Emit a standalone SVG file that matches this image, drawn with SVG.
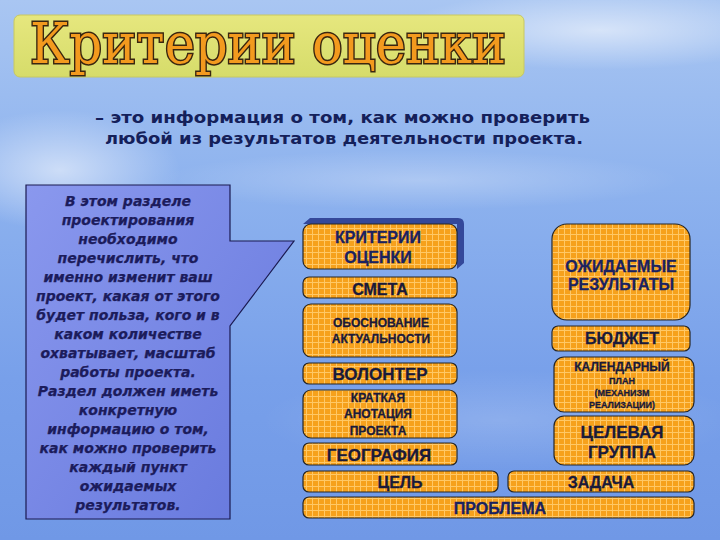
<svg xmlns="http://www.w3.org/2000/svg" width="720" height="540" viewBox="0 0 720 540">
<defs>
<linearGradient id="sky" x1="0" y1="0" x2="0" y2="1">
<stop offset="0" stop-color="#a9c6f2"/>
<stop offset="0.35" stop-color="#8db2ee"/>
<stop offset="0.7" stop-color="#78a0ea"/>
<stop offset="1" stop-color="#7098e6"/>
</linearGradient>
<radialGradient id="cloud">
<stop offset="0" stop-color="#ffffff" stop-opacity="0.55"/>
<stop offset="1" stop-color="#ffffff" stop-opacity="0"/>
</radialGradient>
<linearGradient id="titleg" x1="0" y1="0" x2="0" y2="1">
<stop offset="0" stop-color="#e6e77e"/>
<stop offset="1" stop-color="#d6dc6a"/>
</linearGradient>
<linearGradient id="callg" x1="0" y1="0" x2="1" y2="1">
<stop offset="0" stop-color="#8a98ee"/>
<stop offset="1" stop-color="#6577dc"/>
</linearGradient>
<pattern id="grid" width="6" height="6" patternUnits="userSpaceOnUse">
<rect width="6" height="6" fill="#f6a11c"/>
<path d="M0 0.5H6M0.5 0V6" stroke="#ffc866" stroke-width="1"/>
</pattern>
<style>
.box{fill:url(#grid);stroke:#262626;stroke-width:1.2}
.t{font-family:"Liberation Sans",Arial,sans-serif;font-weight:bold;text-anchor:middle;fill:#1a1a3a;stroke:#1a1a3a;stroke-width:0.3}
.n{fill:#1a2260;stroke:#1a2260}
.s{font-family:"DejaVu Sans",Verdana,sans-serif;font-weight:bold;font-size:16px;fill:#14205a}
.c{font-family:"DejaVu Sans",Verdana,sans-serif;font-weight:bold;font-style:italic;font-size:14px;text-anchor:middle;fill:#1c1c5c;stroke:#1c1c5c;stroke-width:0.25}
</style>
</defs>
<rect width="720" height="540" fill="url(#sky)"/>
<ellipse cx="60" cy="170" rx="120" ry="60" fill="url(#cloud)"/>
<ellipse cx="600" cy="30" rx="200" ry="40" fill="url(#cloud)"/>
<ellipse cx="420" cy="180" rx="260" ry="30" fill="url(#cloud)" opacity="0.5"/>
<ellipse cx="500" cy="420" rx="240" ry="50" fill="url(#cloud)" opacity="0.3"/>

<g id="title">
<rect x="14" y="15" width="510" height="62" rx="6" fill="url(#titleg)" stroke="#c8c860" stroke-width="1"/>
<g transform="translate(268,63) scale(1,1.15)">
<text x="0" y="0" font-family="DejaVu Serif,Liberation Serif,serif" font-size="48" text-anchor="middle" textLength="476" lengthAdjust="spacingAndGlyphs" fill="#f39a1e" stroke="#3a2610" stroke-width="2.6" paint-order="stroke">Критерии  оценки</text>
</g>
</g>

<g id="subtitle">
<text class="s" x="95" y="123" textLength="495" lengthAdjust="spacingAndGlyphs">– это информация о том, как можно проверить</text>
<text class="s" x="105" y="144" textLength="478" lengthAdjust="spacingAndGlyphs">любой из результатов деятельности проекта.</text>
</g>

<g id="callout">
<path d="M26 185H230V241H294L230 326V519H26Z" fill="url(#callg)" stroke="#1a1a50" stroke-width="1.2"/>
<text class="c" x="128" y="206">В этом разделе</text>
<text class="c" x="128" y="225">проектирования</text>
<text class="c" x="128" y="244">необходимо</text>
<text class="c" x="128" y="263">перечислить, что</text>
<text class="c" x="128" y="282">именно изменит ваш</text>
<text class="c" x="128" y="301">проект, какая от этого</text>
<text class="c" x="128" y="320">будет польза, кого и в</text>
<text class="c" x="128" y="339">каком  количестве</text>
<text class="c" x="128" y="358">охватывает, масштаб</text>
<text class="c" x="128" y="377">работы проекта.</text>
<text class="c" x="128" y="396">Раздел должен иметь</text>
<text class="c" x="128" y="415">конкретную</text>
<text class="c" x="128" y="434">информацию  о том,</text>
<text class="c" x="128" y="453">как можно проверить</text>
<text class="c" x="128" y="472">каждый пункт</text>
<text class="c" x="128" y="491">ожидаемых</text>
<text class="c" x="128" y="510">результатов.</text>
</g>

<g id="connectors"></g>

<g id="kriterii">
<path d="M310 218H458Q464 218 464 224V263L457 269V224Q457 224 451 224H303Z" fill="#34489a"/>
<rect x="303" y="224" width="154" height="45" rx="8" class="box"/>
<text class="t n" font-size="16" x="378" y="243">КРИТЕРИИ</text>
<text class="t n" font-size="16" x="378" y="263">ОЦЕНКИ</text>
</g>
<g id="smeta">
<rect x="303" y="277" width="154" height="21" rx="6" class="box"/>
<text class="t" font-size="16" x="380" y="295">СМЕТА</text>
</g>
<g id="obosnovanie">
<rect x="303" y="304" width="154" height="53" rx="8" class="box"/>
<text class="t" font-size="12" x="381" y="327">ОБОСНОВАНИЕ</text>
<text class="t" font-size="12" x="381" y="343">АКТУАЛЬНОСТИ</text>
</g>
<g id="volonter">
<rect x="303" y="363" width="154" height="21" rx="6" class="box"/>
<text class="t" font-size="17" x="380" y="380">ВОЛОНТЕР</text>
</g>
<g id="kratkaya">
<rect x="303" y="390" width="154" height="48" rx="8" class="box"/>
<text class="t" font-size="12" x="378" y="402">КРАТКАЯ</text>
<text class="t" font-size="12" x="378" y="418">АНОТАЦИЯ</text>
<text class="t" font-size="12" x="378" y="435">ПРОЕКТА</text>
</g>
<g id="geografiya">
<rect x="303" y="443" width="154" height="22" rx="6" class="box"/>
<text class="t" font-size="17" x="379" y="461">ГЕОГРАФИЯ</text>
</g>
<g id="ozhidaemye">
<rect x="552" y="224" width="138" height="96" rx="15" class="box"/>
<text class="t n" font-size="16" x="621" y="272">ОЖИДАЕМЫЕ</text>
<text class="t n" font-size="16" x="621" y="290">РЕЗУЛЬТАТЫ</text>
</g>
<g id="byudzhet">
<rect x="552" y="326" width="138" height="25" rx="6" class="box"/>
<text class="t" font-size="16" x="622" y="344">БЮДЖЕТ</text>
</g>
<g id="kalendarny">
<rect x="554" y="357" width="140" height="55" rx="10" class="box"/>
<text class="t" font-size="12" x="622" y="371">КАЛЕНДАРНЫЙ</text>
<text class="t" font-size="9" x="622" y="384">ПЛАН</text>
<text class="t" font-size="9" x="622" y="396">(МЕХАНИЗМ</text>
<text class="t" font-size="9" x="622" y="408">РЕАЛИЗАЦИИ)</text>
</g>
<g id="tselevaya">
<rect x="554" y="416" width="140" height="49" rx="10" class="box"/>
<text class="t" font-size="17" x="622" y="438">ЦЕЛЕВАЯ</text>
<text class="t" font-size="17" x="622" y="458">ГРУППА</text>
</g>
<g id="tsel">
<rect x="303" y="471" width="195" height="21" rx="6" class="box"/>
<text class="t" font-size="16" x="400" y="488">ЦЕЛЬ</text>
</g>
<g id="zadacha">
<rect x="508" y="471" width="186" height="21" rx="6" class="box"/>
<text class="t" font-size="16" x="601" y="488">ЗАДАЧА</text>
</g>
<g id="problema">
<rect x="303" y="497" width="391" height="21" rx="6" class="box"/>
<text class="t n" font-size="16" x="500" y="514" stroke-width="0.6">ПРОБЛЕМА</text>
</g>
</svg>
